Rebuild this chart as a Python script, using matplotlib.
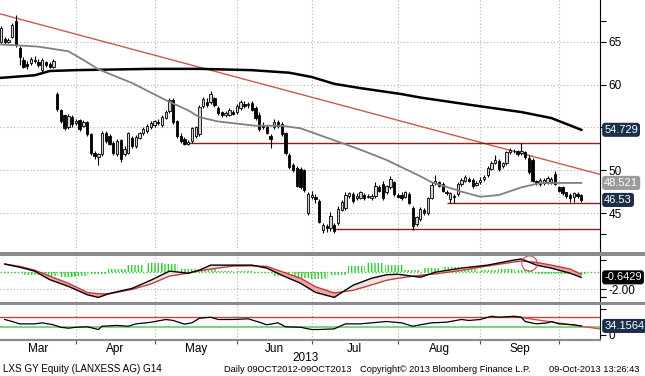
import numpy as np
import pandas as pd
import matplotlib
matplotlib.use("Agg")
import matplotlib.pyplot as plt
from matplotlib.patches import Rectangle
from matplotlib.transforms import blended_transform_factory

plt.rcParams["font.family"] = ["Liberation Sans", "DejaVu Sans"]

# trading days shown (Xetra holidays left out)
holidays = ["2013-03-29", "2013-04-01", "2013-05-01"]

opens = [65.0, 65.3, 65.0, 65.6, 67.4, 64.3, 62.9, 62.4, 62.5, 62.8, 62.7, 61.7, 62.6, 62.4, 62.1, 58.9,
         57.0, 56.4, 55.0, 56.2, 55.5, 55.9, 55.2, 55.6, 54.2, 52.0, 51.6, 51.9, 54.4, 54.0, 53.2, 51.9,
         53.5, 51.9, 52.0, 53.8, 52.8, 53.8, 54.3, 54.6, 55.0, 55.3, 55.6, 55.3, 56.1, 56.9, 58.2, 55.7,
         54.0, 53.6, 53.1, 53.4, 54.0, 54.2, 57.5, 58.0, 58.0, 58.4, 57.3, 56.8, 56.4, 56.5, 56.8, 56.8,
         57.3, 57.8, 57.6, 57.9, 57.3, 56.5, 55.3, 55.0, 54.0, 55.0, 55.6, 55.4, 54.3, 51.8, 50.6, 50.3,
         50.2, 50.0, 45.0, 46.9, 46.9, 46.4, 43.0, 43.5, 43.2, 43.6, 43.8, 45.4, 45.6, 47.0, 47.2, 46.7,
         46.8, 47.1, 46.9, 46.8, 47.0, 48.0, 48.4, 47.4, 48.0, 48.6, 47.1, 47.1, 46.9, 47.2, 45.6, 43.7,
         44.3, 45.3, 45.0, 46.8, 48.5, 48.6, 48.4, 47.5, 46.6, 47.0, 47.2, 48.4, 48.8, 49.0, 48.9, 48.3,
         48.6, 49.0, 49.4, 50.2, 50.9, 51.1, 50.5, 50.8, 52.1, 52.3, 52.2, 52.0, 52.1, 51.4, 51.2, 48.7,
         48.4, 48.5, 48.6, 48.6, 49.6, 48.0, 48.0, 47.4, 47.1, 46.9, 47.2, 47.1]
highs = [66.9, 65.6, 65.5, 67.2, 68.2, 64.5, 63.2, 62.8, 63.2, 63.3, 63.0, 63.1, 62.8, 62.6, 63.0, 59.1,
         57.2, 56.6, 56.6, 56.5, 56.0, 56.0, 55.9, 55.8, 54.4, 52.2, 52.0, 54.6, 54.6, 54.2, 53.4, 53.6,
         53.7, 52.8, 54.5, 54.0, 54.1, 54.5, 55.1, 55.4, 55.7, 55.9, 56.0, 56.4, 57.0, 58.5, 58.5, 55.9,
         54.3, 53.9, 53.5, 55.1, 55.2, 57.6, 58.6, 58.4, 59.3, 58.6, 57.5, 56.9, 56.9, 57.3, 57.0, 57.7,
         58.2, 58.1, 58.0, 58.1, 57.5, 56.8, 55.6, 55.3, 54.2, 56.0, 55.9, 55.6, 54.5, 52.0, 50.8, 50.5,
         50.4, 50.2, 47.5, 47.6, 47.2, 46.6, 43.8, 43.7, 45.1, 43.8, 45.8, 46.5, 47.4, 47.5, 47.4, 47.3,
         47.6, 47.3, 47.2, 47.2, 48.6, 48.3, 48.7, 48.3, 49.3, 48.8, 47.3, 47.4, 47.6, 47.4, 45.8, 44.7,
         45.7, 45.6, 46.9, 48.6, 49.4, 48.8, 48.6, 47.7, 47.5, 47.2, 48.6, 49.1, 49.4, 49.2, 49.1, 48.8,
         49.2, 49.4, 50.5, 51.1, 51.8, 51.3, 51.0, 52.3, 52.6, 52.5, 52.4, 53.2, 52.3, 51.8, 51.4, 48.9,
         49.1, 49.1, 49.3, 49.2, 49.9, 48.2, 48.1, 47.5, 47.3, 47.4, 47.4, 47.2]
lows = [64.9, 64.8, 64.9, 65.5, 64.4, 62.3, 61.9, 61.8, 62.3, 62.5, 62.1, 61.5, 62.1, 61.9, 61.9, 56.9,
        55.5, 54.7, 54.8, 55.0, 55.3, 54.6, 55.0, 54.0, 51.8, 51.3, 50.6, 51.7, 53.2, 52.9, 51.8, 51.7,
        51.0, 51.7, 51.9, 52.6, 52.6, 53.6, 54.1, 54.4, 54.8, 55.1, 55.3, 55.1, 56.0, 56.7, 55.4, 53.8,
        53.2, 52.9, 52.9, 53.2, 53.8, 54.0, 57.3, 57.4, 57.8, 57.4, 56.5, 56.2, 56.2, 56.3, 56.4, 56.6,
        57.1, 57.3, 57.3, 56.9, 55.9, 54.6, 54.8, 54.2, 52.6, 54.8, 54.9, 54.0, 51.8, 50.2, 49.8, 48.0,
        47.8, 47.5, 44.8, 46.6, 46.2, 43.8, 42.7, 42.8, 42.9, 42.7, 43.6, 45.2, 45.4, 46.7, 46.2, 46.5,
        46.6, 46.5, 46.7, 46.5, 46.8, 47.4, 46.5, 47.2, 47.8, 47.0, 46.7, 46.5, 46.7, 46.0, 43.0, 43.5,
        44.1, 44.8, 44.8, 46.6, 48.3, 48.0, 47.4, 47.1, 46.2, 46.2, 47.0, 48.2, 48.6, 48.6, 47.9, 48.1,
        48.4, 48.8, 49.2, 50.0, 50.7, 49.9, 50.3, 50.6, 51.9, 52.0, 51.7, 51.8, 51.3, 49.6, 48.6, 48.3,
        48.2, 48.3, 48.4, 48.4, 48.3, 47.4, 47.1, 46.8, 46.3, 46.3, 46.8, 46.3]
closes = [66.6, 65.0, 65.2, 67.0, 64.6, 63.2, 62.1, 62.2, 63.0, 62.9, 62.3, 62.9, 62.3, 62.1, 62.8, 57.2,
          55.8, 54.9, 56.3, 55.4, 55.8, 54.8, 55.6, 54.2, 52.0, 51.7, 51.9, 54.4, 53.4, 53.1, 52.0, 53.4,
          51.3, 52.5, 54.3, 52.8, 53.9, 54.3, 54.8, 55.2, 55.5, 55.7, 55.5, 56.2, 56.8, 58.2, 55.6, 54.0,
          53.4, 53.1, 53.3, 54.9, 55.0, 57.4, 58.3, 57.6, 58.9, 57.6, 56.7, 56.5, 56.7, 57.1, 56.6, 57.5,
          58.0, 57.5, 57.8, 57.1, 56.1, 54.8, 55.0, 54.4, 53.6, 55.6, 55.2, 54.2, 52.0, 50.4, 50.0, 48.2,
          48.0, 47.7, 47.2, 47.1, 46.6, 44.0, 43.6, 43.2, 44.6, 42.9, 45.5, 46.3, 47.1, 47.3, 46.4, 47.0,
          47.4, 46.8, 47.0, 47.0, 48.2, 47.6, 46.8, 48.1, 49.0, 47.2, 46.9, 46.8, 47.4, 46.2, 43.5, 44.5,
          45.5, 45.0, 46.7, 48.3, 48.8, 48.2, 47.6, 47.3, 47.3, 46.9, 48.4, 48.9, 49.2, 48.8, 48.1, 48.5,
          48.9, 49.2, 50.3, 50.9, 51.2, 50.1, 50.8, 52.1, 52.4, 52.2, 51.9, 52.3, 51.5, 49.8, 48.8, 48.5,
          48.9, 48.9, 49.1, 49.0, 48.4, 47.6, 47.3, 47.0, 46.8, 47.3, 47.0, 46.53]

# moving averages (date, value)
ma200_days = ["03-01", "03-14", "03-20", "04-02", "04-30", "05-20", "06-07", "06-21", "07-01",
              "07-09", "07-18", "08-02", "08-09", "08-29", "09-17", "09-27", "10-09"]
ma200_vals = [60.8, 61.1, 61.6, 61.7, 61.85, 61.85, 61.7, 61.4, 60.9, 60.1, 59.6, 58.9, 58.5,
              57.6, 56.8, 56.1, 54.729]
ma50_days = ["03-01", "03-15", "03-27", "04-04", "04-10", "04-23", "05-07", "05-15", "05-20", "05-27",
             "06-10", "06-19", "06-26", "07-09", "07-18", "07-29", "08-09", "08-14", "08-26", "09-02",
             "09-09", "09-17", "09-24", "10-09"]
ma50_vals = [64.7, 64.45, 63.9, 62.9, 61.8, 60.2, 58.2, 57.0, 56.2, 55.7, 55.2, 55.2, 54.9, 53.5,
             52.4, 51.2, 49.3, 48.6, 47.5, 46.9, 47.1, 48.0, 48.5, 48.521]

trend_days = ["03-01", "10-09"]
trend_vals = [68.25, 50.1]
levels = [53.2, 46.17, 43.13]
level_start = ["05-15", "08-20", "07-09"]

# MACD panel
macd_days = ["03-04", "03-08", "03-14", "03-20", "03-27", "04-05", "04-10", "04-15", "04-23", "04-30",
             "05-08", "05-15", "05-20", "05-23", "05-31", "06-07", "06-13", "06-19", "06-26", "07-02",
             "07-09", "07-16", "07-23", "07-29", "08-01", "08-09", "08-15", "08-26", "09-04", "09-13",
             "09-17", "09-23", "09-27", "10-04", "10-09"]
macd_vals = [0.86, 0.5, 0.06, -0.9, -1.66, -2.6, -2.91, -2.46, -1.89, -0.97, 0.06, -0.17, 0.17, 0.74,
             0.74, 0.74, 0.4, -0.4, -1.31, -2.34, -2.91, -1.54, -0.74, -0.35, -0.29, -0.63, -0.06, 0.4,
             0.74, 1.31, 1.43, 0.74, 0.4, -0.17, -0.6429]
signal_vals = [0.86, 0.6, 0.17, -0.5, -1.31, -2.34, -2.5, -2.5, -2.0, -1.4, -0.5, -0.17, 0.1, 0.3,
               0.63, 0.66, 0.6, 0.0, -0.74, -1.7, -2.4, -2.11, -1.5, -0.97, -0.75, -0.4, -0.25, 0.15,
               0.65, 1.09, 1.2, 1.05, 0.74, 0.3, -0.3]
hist_days = ["03-06", "03-13", "03-20", "03-27", "04-03", "04-10", "04-17", "04-24", "05-02", "05-08",
             "05-15", "05-22", "05-29", "06-05", "06-12", "06-19", "06-26", "07-03", "07-10", "07-17",
             "07-24", "07-31", "08-07", "08-14", "08-21", "08-28", "09-04", "09-11", "09-18", "09-25",
             "10-02", "10-08"]
hist_vals = [-0.1, -0.4, -0.5, -0.6, -0.5, -0.3, 0.3, 0.8, 1.0, 0.9, 0.3, 0.3, 0.1, 0.05, -0.2, -0.5,
             -0.7, -0.8, -0.4, 0.6, 1.0, 0.7, 0.2, 0.4, 0.5, 0.3, 0.2, 0.25, 0.15, -0.25, -0.3, -0.3]

# RSI panel
rsi_days = ["03-04", "03-06", "03-08", "03-14", "03-18", "03-21", "03-25", "03-27", "04-02", "04-05",
            "04-10", "04-11", "04-17", "04-22", "04-24", "04-30", "05-07", "05-09", "05-14", "05-16",
            "05-20", "05-23", "05-27", "05-31", "06-06", "06-11", "06-13", "06-18", "06-20", "06-26",
            "07-01", "07-03", "07-09", "07-11", "07-12", "07-18", "07-23", "07-29", "08-02", "08-07",
            "08-09", "08-14", "08-20", "08-26", "08-28", "09-02", "09-05", "09-09", "09-13", "09-17",
            "09-18", "09-23", "09-26", "09-27", "10-01", "10-07", "10-09"]
rsi_vals = [58.7, 51, 42, 42, 46, 38.5, 29, 25.5, 29, 31, 20.6, 33, 36, 33, 42, 48, 58.7, 55, 41, 46,
            63.6, 67.4, 58.7, 58.7, 61.3, 48.4, 38.5, 46, 31, 29, 20.6, 20.6, 23, 35.8, 42, 42, 46, 51,
            46, 33, 38.5, 46, 48.4, 58.7, 55, 58.7, 71, 67.4, 71, 67.4, 51, 42, 46, 51, 42, 38.5, 34.1564]
rsi_trend_days = ["09-13", "10-09"]
rsi_trend_vals = [70.1, 33.1]

months = ["Mar", "Apr", "May", "Jun", "Jul", "Aug", "Sep"]

days = pd.bdate_range("2013-03-01", "2013-10-09")
days = days[~days.isin(pd.to_datetime(holidays))]
pos = {d.strftime("%m-%d"): i for i, d in enumerate(days)}
def P(lst):
    return np.array([pos[d] for d in lst])

x = np.arange(len(days))
month_starts = [i for i in range(1, len(days)) if days[i].month != days[i - 1].month]
x_left, x_right = -0.27, 160.0

W, H = 645, 376
fig = plt.figure(figsize=(W / 100, H / 100), dpi=100)
def rect(top, bottom, left=0, right=600):
    return [left / W, 1 - bottom / H, (right - left) / W, (bottom - top) / H]

ax = fig.add_axes(rect(0, 251))
axm = fig.add_axes(rect(256, 301.5), sharex=ax)
axr = fig.add_axes(rect(304.5, 339.5), sharex=ax)

grid_kw = dict(color="#b4b4b4", lw=0.8, ls=(0, (1, 2)))
for a in (ax, axm, axr):
    for s in ("top", "left", "bottom"):
        a.spines[s].set_visible(False)
    a.spines["right"].set_color("black")
    a.yaxis.tick_right()
    a.tick_params(axis="y", direction="out", length=4, pad=2, labelsize=8.5, colors="black")
    a.tick_params(axis="x", bottom=False, labelbottom=False)
    for m in month_starts:
        a.axvline(m, zorder=0, **grid_kw)

# ---- price panel
ax.set_xlim(x_left, x_right)
ax.set_ylim(40.56, 69.9)
for g in [45, 50, 55, 60, 65]:
    ax.axhline(g, zorder=0, **grid_kw)

o = np.array(opens); c = np.array(closes)
up = c >= o
ax.vlines(x, lows, highs, color="black", lw=0.8, zorder=3)
ax.bar(x[up], (c - o)[up], bottom=o[up], width=0.62, color="#d2d2d2", edgecolor="black", lw=0.6, zorder=4)
ax.bar(x[~up], (c - o)[~up], bottom=o[~up], width=0.62, color="black", edgecolor="black", lw=0.6, zorder=4)

ax.plot(P(ma200_days), ma200_vals, color="black", lw=1.8, zorder=5)
ax.plot(P(ma50_days), ma50_vals, color="#808080", lw=1.3, zorder=5)
ax.axline((pos[trend_days[0]], trend_vals[0]), (pos[trend_days[1]], trend_vals[1]), color="#c85a50", lw=1.0, zorder=2)
for lv, st in zip(levels, level_start):
    ax.hlines(lv, pos[st], x_right, color="#8e1f1f", lw=1.0, zorder=2)

ax.set_yticks([42.5, 45, 50, 55, 60, 65, 67.5])
ax.set_yticklabels(["", "45", "50", "", "60", "65", ""])

def tag(a, y, s, bg, fg="white"):
    a.text(1.007, y, s, transform=a.get_yaxis_transform(), ha="left", va="center", fontsize=8,
           color=fg, clip_on=False, zorder=10,
           bbox=dict(boxstyle="round,pad=0.12,rounding_size=0.2", fc=bg, ec=bg))

tag(ax, ma200_vals[-1], "54.729", "#1b2f4b")
tag(ax, ma50_vals[-1], "48.521", "#9a9a9a")
tag(ax, closes[-1], "46.53", "#1b2f4b")

# ---- MACD panel
axm.set_ylim(-3.37, 1.77)
axm.axhline(-2, zorder=0, **grid_kw)
axm.axhline(0, color="#3ccc3c", lw=1.0, ls=(0, (1, 1.5)), zorder=1)
axm.bar(P(hist_days), hist_vals, width=4.6, color="none", edgecolor="#33cc33", hatch="|||||", lw=0, zorder=1)
mx = P(macd_days)
mv = np.array(macd_vals); sv = np.array(signal_vals)
axm.fill_between(mx, mv, sv, where=mv < sv, interpolate=True, color="#f2a3a3", lw=0, zorder=2)
axm.fill_between(mx, mv, sv, where=mv >= sv, interpolate=True, color="#ece4e4", lw=0, zorder=2)
axm.plot(mx, sv, color="#c83a3a", lw=1.0, zorder=3)
axm.plot(mx, mv, color="black", lw=1.0, zorder=4)
axm.plot(pos["09-19"], 0.95, "o", mfc="none", mec="#d04a4a", ms=11, mew=0.8, zorder=5)
axm.set_yticks([1.3, -2.0, -2.9])
axm.set_yticklabels(["", "-2.00", ""])
tag(axm, macd_vals[-1], "-0.6429", "black")

# ---- RSI panel
axr.set_ylim(-17.5, 115.8)
axr.axhline(70, color="#c04444", lw=1.0, zorder=1)
axr.axhline(30, color="#66cc66", lw=1.2, zorder=1)
rx = P(rsi_trend_days)
slope = (rsi_trend_vals[1] - rsi_trend_vals[0]) / (rx[1] - rx[0])
axr.plot([rx[0], x_right], [rsi_trend_vals[0], rsi_trend_vals[0] + slope * (x_right - rx[0])],
         color="#d05050", lw=1.0, zorder=2)
axr.plot(P(rsi_days), rsi_vals, color="black", lw=0.9, zorder=3)
axr.set_yticks([100, 0])
axr.set_yticklabels(["", "0"])
tag(axr, rsi_vals[-1], "34.1564", "#1b2f4b")

axr.spines["bottom"].set_visible(True)
axr.spines["bottom"].set_color("#8c8c8c")
axr.spines["bottom"].set_linewidth(1.6)
axr.set_xticks(month_starts)
axr.tick_params(axis="x", bottom=True, length=3, color="#555555", labelbottom=False)
bounds = [0] + month_starts
mtrans = blended_transform_factory(axr.transData, fig.transFigure)
for name, a, b in zip(months, bounds[:-1], bounds[1:]):
    fig.text((a + b) / 2, 1 - 349 / H, name, ha="center", va="center", fontsize=8.5, transform=mtrans)

# separators
for top in (252, 301.5):
    fig.add_artist(Rectangle((0, 1 - (top + 3.5) / H), 1, 3.5 / H, transform=fig.transFigure,
                             color="#8a8a8a", lw=0))

fig.text(306 / W, 1 - 358 / H, "2013", ha="center", va="center", fontsize=8.5)
fs = 6.7
fig.text(3 / W, 1 - 369 / H, "LXS GY Equity (LANXESS AG) G14", ha="left", va="center", fontsize=7.1)
fig.text(224 / W, 1 - 369 / H, "Daily 09OCT2012-09OCT2013", ha="left", va="center", fontsize=fs)
fig.text(360 / W, 1 - 369 / H, "Copyright\u00a9 2013 Bloomberg Finance L.P.", ha="left", va="center", fontsize=fs)
fig.text(639 / W, 1 - 369 / H, "09-Oct-2013 13:26:43", ha="right", va="center", fontsize=fs)

fig.savefig("out.png", dpi=100, facecolor="white")
